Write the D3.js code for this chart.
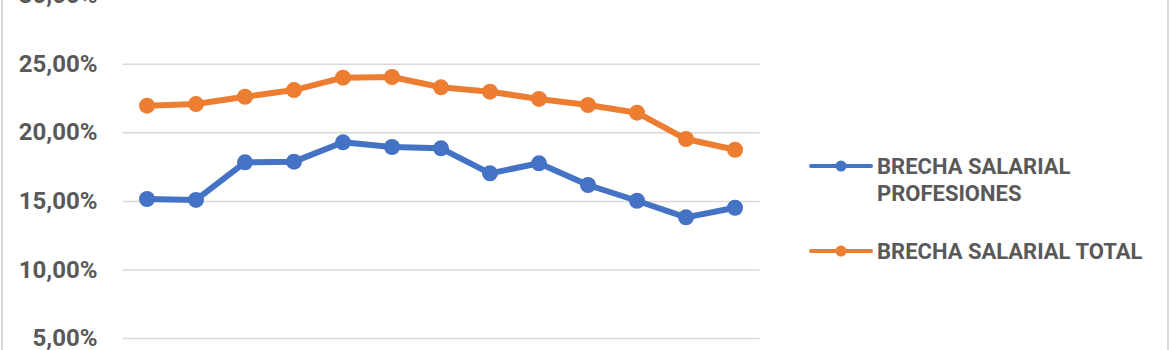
<!DOCTYPE html>
<meta charset="utf-8">
<html>
  <head>
    <script src="https://cdnjs.cloudflare.com/ajax/libs/d3/7.8.5/d3.min.js"></script>
    <style>
      body { margin: 0; background: #fff; }
    </style>
  </head>
<body>
  <div id='chart'></div>
</body>
<script>

// years on the x axis (axis labels sit below the visible crop)
var years = ["2006","2007","2008","2009","2010","2011","2012","2013","2014","2015","2016","2017","2018"];

// gap in percent
var brechaProfesiones = [15.14, 15.07, 17.81, 17.86, 19.27, 18.93, 18.83, 17.01, 17.74, 16.16, 15.01, 13.80, 14.50];
var brechaTotal = [21.94, 22.06, 22.59, 23.08, 23.98, 24.03, 23.28, 22.96, 22.43, 21.99, 21.43, 19.51, 18.73];

var yTicks = [0, 5, 10, 15, 20, 25, 30];

var seriesNames = [["BRECHA SALARIAL", "PROFESIONES"], ["BRECHA SALARIAL TOTAL"]];
var seriesColors = ["#4472C4", "#ED7D31"];

var drawGraph = function(){

  var width = 1170, height = 350;
  var fontFamily = "Roboto, 'Liberation Sans', sans-serif";
  var textColor = "#595959";
  var gridColor = "#d9d9d9";

  var svg = d3.select('#chart')
    .append('svg')
    .attr("width", width)
    .attr("height", height)
    .style("display", "block");

  // chart frame (only the sides show in the crop)
  svg.append("rect")
    .attr("x", 2).attr("y", -20)
    .attr("width", 1166).attr("height", 500)
    .attr("fill", "none")
    .attr("stroke", gridColor)
    .attr("stroke-width", 2);

  var x = d3.scaleBand()
    .domain(years)
    .range([122.5, 759.5]);

  var y = d3.scaleLinear()
    .domain([0, 30])
    .range([406.7, -4.9]);

  var locale = d3.formatLocale({decimal: ",", thousands: ".", grouping: [3], currency: ["", "€"]});
  var fmt = locale.format(".2f");

  var yAxis = svg.append("g")
    .attr("transform", "translate(122.5,0)")
    .call(d3.axisLeft(y)
      .tickValues(yTicks)
      .tickSize(-(759.5 - 122.5))
      .tickPadding(25)
      .tickFormat(function(d){ return fmt(d) + "%"; }));

  yAxis.select(".domain").remove();
  yAxis.selectAll(".tick line")
    .attr("stroke", gridColor)
    .attr("stroke-width", 1.5);
  yAxis.selectAll(".tick text")
    .attr("fill", textColor)
    .style("font-family", fontFamily)
    .style("font-weight", "bold")
    .style("font-size", "24px");

  var cx = function(d, i){ return x(years[i]) + x.bandwidth() / 2; };

  var line = d3.line()
    .x(cx)
    .y(function(d){ return y(d); });

  [brechaTotal, brechaProfesiones].forEach(function(values, k){
    var color = k === 0 ? seriesColors[1] : seriesColors[0];
    var g = svg.append("g");
    g.append("path")
      .datum(values)
      .attr("d", line)
      .attr("fill", "none")
      .attr("stroke", color)
      .attr("stroke-width", 6)
      .attr("stroke-linejoin", "round");
    g.selectAll("circle")
      .data(values)
      .enter().append("circle")
      .attr("cx", cx)
      .attr("cy", function(d){ return y(d); })
      .attr("r", 8)
      .attr("fill", color);
  });

  // legend
  var legendY = [166, 251];
  seriesNames.forEach(function(lines, i){
    var g = svg.append("g").attr("transform", "translate(0," + legendY[i] + ")");
    g.append("line")
      .attr("x1", 811).attr("x2", 871)
      .attr("y1", 0).attr("y2", 0)
      .attr("stroke", seriesColors[i])
      .attr("stroke-width", 4)
      .attr("stroke-linecap", "round");
    g.append("circle")
      .attr("cx", 841).attr("cy", 0).attr("r", 5.5)
      .attr("fill", seriesColors[i]);
    var t = g.append("text")
      .attr("x", 877)
      .attr("y", 0)
      .attr("fill", textColor)
      .style("font-family", fontFamily)
      .style("font-weight", "bold")
      .style("font-size", "22px");
    lines.forEach(function(s, j){
      t.append("tspan")
        .attr("x", 877)
        .attr("dy", j === 0 ? "0.35em" : 27)
        .text(s);
    });
  });
}

drawGraph();

</script>
</html>
